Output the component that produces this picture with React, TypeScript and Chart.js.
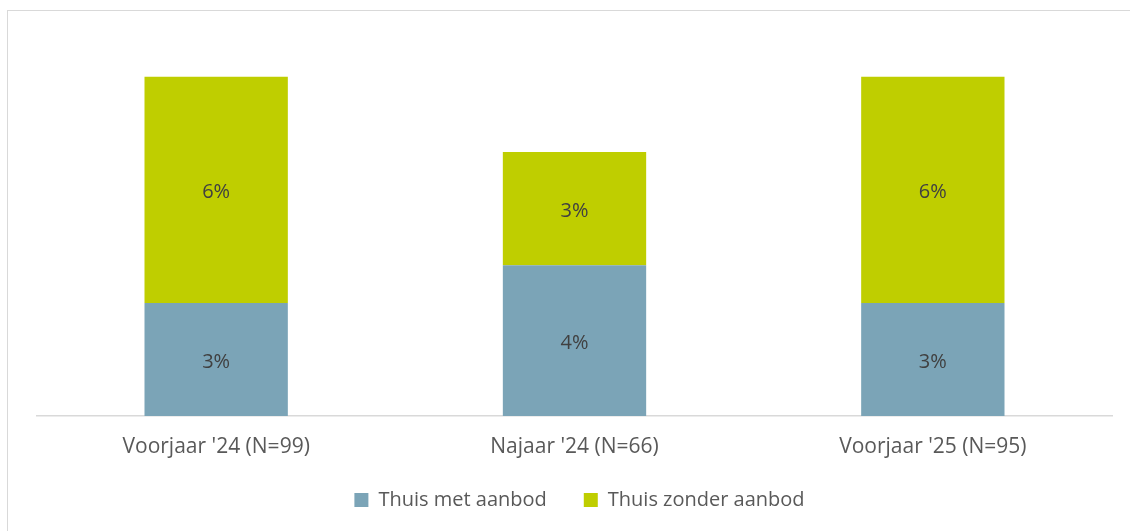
import React, { useEffect, useRef } from "react";
import { Chart, registerables } from "chart.js";

Chart.register(...registerables);

const categories = ["Voorjaar '24 (N=99)", "Najaar '24 (N=66)", "Voorjaar '25 (N=95)"];
const seriesNames = ["Thuis met aanbod", "Thuis zonder aanbod"];
const metAanbod = [3, 4, 3];
const zonderAanbod = [6, 3, 6];
const seriesColors = ["#7ba4b7", "#bfce00"];

const FONT = "'Open Sans', 'Noto Sans', sans-serif";
const LEGEND_SHIFT = 11;

const valueLabels = {
  id: "valueLabels",
  afterDatasetsDraw(chart: any) {
    const ctx = chart.ctx;
    ctx.save();
    ctx.font = `20px ${FONT}`;
    ctx.fillStyle = "#404040";
    ctx.textAlign = "center";
    ctx.textBaseline = "middle";
    chart.data.datasets.forEach((ds: any, di: number) => {
      const meta = chart.getDatasetMeta(di);
      meta.data.forEach((el: any, i: number) => {
        const { x, y, base } = el.getProps(["x", "y", "base"], true);
        ctx.fillText(`${ds.data[i]}%`, x, (y + base) / 2 + 2.5);
      });
    });
    ctx.restore();
  },
};

const legendNudge = {
  id: "legendNudge",
  afterLayout(chart: any) {
    const lg = chart.legend;
    if (lg) {
      lg.top -= LEGEND_SHIFT;
      lg.bottom = chart.height;
      lg.height = lg.bottom - lg.top;
    }
  },
};

export default function App() {
  const ref = useRef<HTMLCanvasElement>(null);
  useEffect(() => {
    const chart = new Chart(ref.current!, {
      type: "bar",
      data: {
        labels: categories,
        datasets: [
          { label: seriesNames[0], data: metAanbod, backgroundColor: seriesColors[0], categoryPercentage: 1, barPercentage: 0.4 },
          { label: seriesNames[1], data: zonderAanbod, backgroundColor: seriesColors[1], categoryPercentage: 1, barPercentage: 0.4 },
        ],
      },
      options: {
        animation: false,
        responsive: false,
        maintainAspectRatio: false,
        layout: { padding: { top: 39, left: 37, right: 8, bottom: 17 } },
        scales: {
          x: {
            stacked: true,
            grid: { display: false, drawTicks: false },
            border: { display: true, color: "#d9d9d9", width: 1.5 },
            ticks: { color: "#595959", font: { family: FONT, size: 21 }, padding: 18, maxRotation: 0 },
            afterFit: (s: any) => { s.height = 48; },
          },
          y: {
            stacked: true,
            position: "right",
            min: 0,
            max: 10,
            grid: { display: false, drawTicks: false },
            border: { display: false },
            ticks: { display: false },
            afterFit: (s: any) => { s.width = 10; },
          },
        },
        plugins: {
          legend: {
            position: "bottom",
            maxHeight: 50,
            labels: {
              boxWidth: 14,
              boxHeight: 14,
              padding: 37,
              color: "#595959",
              font: { family: FONT, size: 20 },
            },
          },
          tooltip: { enabled: false },
        },
      },
      plugins: [valueLabels, legendNudge],
    });
    return () => chart.destroy();
  }, []);
  return (
    <div style={{ position: "fixed", left: 0, top: 0, width: 1130, height: 531, background: "#fff", overflow: "hidden" }}>
      <div style={{ position: "absolute", left: 7, top: 10, width: 1200, height: 600, border: "1.5px solid #d9d9d9", boxSizing: "border-box" }} />
      <canvas ref={ref} width={1130} height={531} style={{ position: "absolute", left: 0, top: 0, width: 1130, height: 531 }} />
    </div>
  );
}
